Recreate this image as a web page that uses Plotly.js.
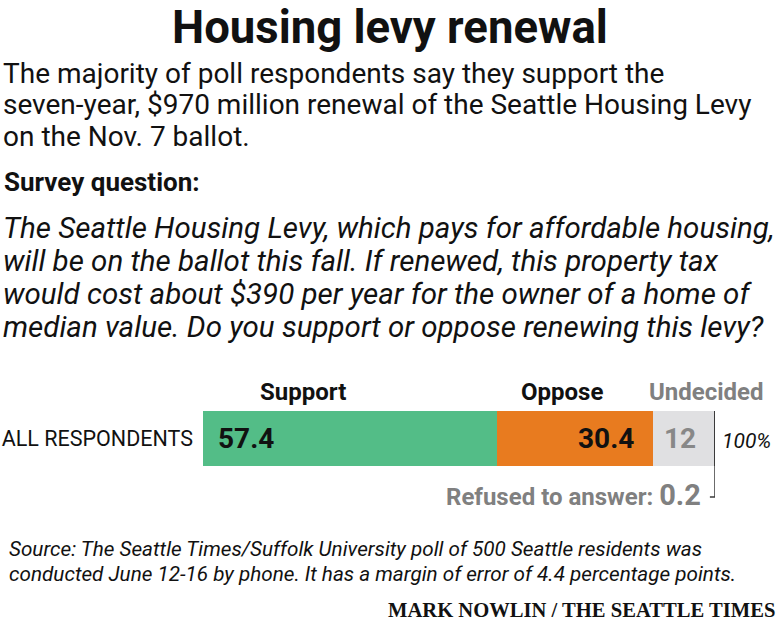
<!DOCTYPE html>
<html>
<head>
<meta charset="utf-8">
<script src="https://cdn.plot.ly/plotly-3.0.1.min.js"></script>
<style>
  html, body { margin: 0; padding: 0; background: #fff; }
  #chart { width: 780px; height: 625px; }
</style>
</head>
<body>
<div id="chart"></div>
<script>
// ---- data ----
const categories = ['ALL RESPONDENTS'];
const segments = ['Support', 'Oppose', 'Undecided', 'Refused to answer'];
const values = [57.4, 30.4, 12, 0.2];
const segmentColors = ['#53bd87', '#e87b1f', '#e0e0e2', '#3a3a3a'];

const titleText = 'Housing levy renewal';
const subtitleLines = [
  'The majority of poll respondents say they support the',
  'seven-year, $970 million renewal of the Seattle Housing Levy',
  'on the Nov. 7 ballot.'
];
const questionHeader = 'Survey question:';
const questionLines = [
  'The Seattle Housing Levy, which pays for affordable housing,',
  'will be on the ballot this fall. If renewed, this property tax',
  'would cost about $390 per year for the owner of a home of',
  'median value. Do you support or oppose renewing this levy?'
];
const sourceLines = [
  'Source: The Seattle Times/Suffolk University poll of 500 Seattle residents was',
  'conducted June 12-16 by phone. It has a margin of error of 4.4 percentage points.'
];
const creditText = 'MARK NOWLIN / THE SEATTLE TIMES';

// ---- layout helpers ----
const SANS = 'Roboto, "Liberation Sans", sans-serif';
const SERIF = '"Liberation Serif", "DejaVu Serif", serif';
const L = 203, R = 65, T = 411, B = 159;
const PW = 780 - L - R, PH = 625 - T - B;
const xp = x => (x - L) / PW;
const yp = y => (625 - B - y) / PH;

const traces = segments.map((s, i) => ({
  type: 'bar',
  orientation: 'h',
  name: s,
  y: categories,
  x: [values[i]],
  marker: { color: segmentColors[i], line: { width: 0 } },
  hoverinfo: 'name+x',
  showlegend: false
}));

const ann = [];
function txt(text, x, y, size, opts) {
  opts = opts || {};
  ann.push({
    text: text, xref: 'paper', yref: 'paper', x: xp(x), y: yp(y),
    xanchor: opts.anchor || 'left', yanchor: 'middle', showarrow: false,
    font: { family: opts.family || SANS, size: size, color: opts.color || '#111' }
  });
}

txt('<b>' + titleText + '</b>', 390, 27, 45.5, { anchor: 'center' });
subtitleLines.forEach((t, i) => txt(t, 1, 73 + i * 31.5, 28));
txt('<b>' + questionHeader + '</b>', 2, 182, 26);
questionLines.forEach((t, i) => txt('<i>' + t + '</i>', 1, 228 + i * 33, 29.5));

// segment headers above bar, positioned on the data scale
const cum = [];
values.reduce((a, v, i) => { cum[i] = a; return a + v; }, 0);
const total = values.reduce((a, b) => a + b, 0);
const headerColors = ['#111', '#111', '#808080'];
const headerX = [cum[0], cum[1], total];
const headerAnchor = ['left', 'left', 'right'];
const headerShift = [55, 22, 51];
for (let i = 0; i < 3; i++) {
  ann.push({
    text: '<b>' + segments[i] + '</b>', xref: 'x', yref: 'paper', x: headerX[i], y: yp(392),
    xanchor: headerAnchor[i], xshift: headerShift[i], yanchor: 'middle', showarrow: false,
    font: { family: SANS, size: 24, color: headerColors[i] }
  });
}

// value labels inside bars
ann.push({ text: '<b>' + values[0] + '</b>', xref: 'x', yref: 'y', x: cum[0], y: categories[0],
  xanchor: 'left', xshift: 13, yanchor: 'middle', showarrow: false,
  font: { family: SANS, size: 28, color: '#111' } });
ann.push({ text: '<b>' + values[1] + '</b>', xref: 'x', yref: 'y', x: cum[1] + values[1], y: categories[0],
  xanchor: 'right', xshift: -17, yanchor: 'middle', showarrow: false,
  font: { family: SANS, size: 28, color: '#111' } });
ann.push({ text: '<b>' + values[2] + '</b>', xref: 'x', yref: 'y', x: cum[2] + values[2] / 2, y: categories[0],
  xanchor: 'center', xshift: -3, yanchor: 'middle', showarrow: false,
  font: { family: SANS, size: 28, color: '#888' } });

// total label
ann.push({ text: '<i>' + Math.round(total) + '%</i>', xref: 'x', yref: 'y', x: total, y: categories[0],
  xanchor: 'left', xshift: 5, yanchor: 'middle', yshift: -2, showarrow: false,
  font: { family: SANS, size: 21, color: '#111' } });

// refused label
ann.push({ text: '<b>' + segments[3] + ': <span style="font-size:29px">' + values[3] + '</span></b>',
  xref: 'x', yref: 'paper', x: total, y: yp(495), xanchor: 'right', xshift: -12, yanchor: 'middle',
  showarrow: false, font: { family: SANS, size: 24, color: '#808080' } });

sourceLines.forEach((t, i) => txt('<i>' + t + '</i>', 7, 549 + i * 25, 20.7));
txt('<b>' + creditText + '</b>', 777, 610, 20.6, { anchor: 'right', family: SERIF });

const shapes = [
  { type: 'line', xref: 'x', yref: 'paper', x0: total, x1: total, y0: 0, y1: yp(497),
    line: { color: '#3a3a3a', width: 1.5 } },
  { type: 'line', xref: 'x', yref: 'paper', x0: total, x1: total - 1, y0: yp(497), y1: yp(497),
    line: { color: '#3a3a3a', width: 1.5 } }
];

const layout = {
  width: 780, height: 625,
  margin: { l: L, r: R, t: T, b: B, pad: 0 },
  paper_bgcolor: '#fff', plot_bgcolor: '#fff',
  barmode: 'stack', bargap: 0,
  xaxis: { range: [0, 100], visible: false, fixedrange: true },
  yaxis: { range: [-0.5, 0.5], showgrid: false, zeroline: false, showline: false, ticks: '',
           ticklabelstandoff: 9, tickfont: { family: SANS, size: 21.5, color: '#111' }, fixedrange: true },
  annotations: ann,
  shapes: shapes,
  showlegend: false
};

Plotly.newPlot('chart', traces, layout, { displayModeBar: false, staticPlot: true });
</script>
</body>
</html>
